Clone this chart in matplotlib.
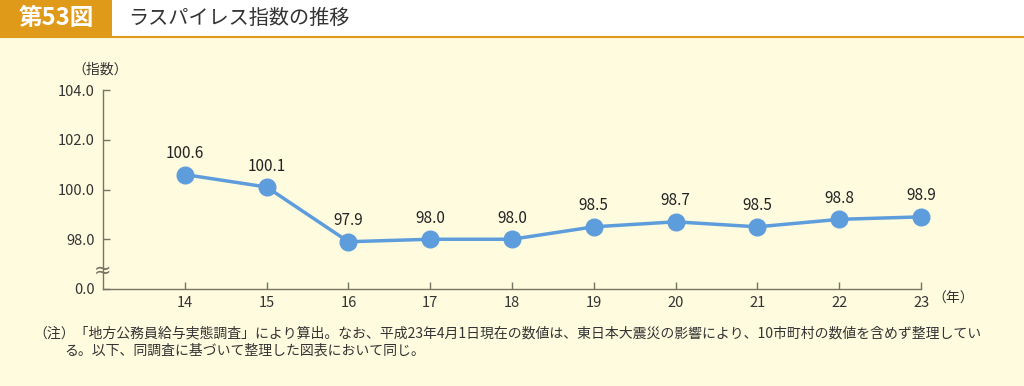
import matplotlib.pyplot as plt
from matplotlib.patches import Rectangle

plt.rcParams['font.family'] = ['Noto Sans CJK JP', 'DejaVu Sans']

years = [14, 15, 16, 17, 18, 19, 20, 21, 22, 23]
values = [100.6, 100.1, 97.9, 98.0, 98.0, 98.5, 98.7, 98.5, 98.8, 98.9]
ytick_vals = [96.0, 98.0, 100.0, 102.0, 104.0]
ytick_labels = ['0.0', '98.0', '100.0', '102.0', '104.0']

bg = '#fffbdf'
axis_col = '#7a7263'
line_col = '#5e9ddc'
orange = '#e09a1a'

fig = plt.figure(figsize=(10.24, 3.86), dpi=100, facecolor=bg)

# header
fig.patches.append(Rectangle((0, 1 - 36/386), 1, 36/386, transform=fig.transFigure,
                             facecolor='white', edgecolor='none', zorder=0))
fig.patches.append(Rectangle((0, 1 - 36/386), 112/1024, 36/386, transform=fig.transFigure,
                             facecolor=orange, edgecolor='none', zorder=1))
fig.add_artist(plt.Line2D([0, 1], [1 - 37/386, 1 - 37/386], transform=fig.transFigure,
                          color=orange, lw=1.5))
fig.text(56/1024, 1 - 18/386, '第53図', color='white', fontsize=17, fontweight='bold',
         ha='center', va='center')
fig.text(128/1024, 1 - 18/386, 'ラスパイレス指数の推移', color='#333333', fontsize=14.5,
         ha='left', va='center')

ax = fig.add_axes([103/1024, 97/386, 818/1024, 199/386])
ax.set_facecolor(bg)
ax.plot(years, values, color=line_col, lw=2.5, marker='o', markersize=12,
        markeredgecolor=line_col, zorder=3, clip_on=False)
for x, v in zip(years, values):
    ax.annotate(f'{v:.1f}', (x, v), xytext=(0, 9), textcoords='offset points',
                ha='center', va='bottom', fontsize=11, color='#222222')

ax.set_xlim(13, 23)
ax.set_ylim(96, 104)
ax.set_xticks(years)
ax.set_xticklabels([str(y) for y in years], fontsize=10.5, color='#333333')
ax.set_yticks(ytick_vals)
ax.set_yticklabels(ytick_labels, fontsize=10.5, color='#333333')
ax.tick_params(axis='both', direction='in', length=5, color=axis_col, width=1, pad=6)
ax.tick_params(axis='x', pad=5)
for s in ['top', 'right']:
    ax.spines[s].set_visible(False)
for s in ['left', 'bottom']:
    ax.spines[s].set_color(axis_col)
    ax.spines[s].set_linewidth(1)

# axis break
ax.text(13, 96.75, '≈', ha='center', va='center', fontsize=15,
        color=axis_col, family='DejaVu Sans', clip_on=False, zorder=5)

fig.text(100/1024, 1 - 70/386, '（指数）', fontsize=10, color='#333333', ha='center', va='center')
fig.text(932/1024, 1 - 299/386, '（年）', fontsize=10, color='#333333', ha='left', va='center')

fig.text(33/1024, 1 - 333/386,
         '（注）「地方公務員給与実態調査」により算出。なお、平成23年4月1日現在の数値は、東日本大震災の影響により、10市町村の数値を含めず整理してい',
         fontsize=10, color='#333333', ha='left', va='center')
fig.text(64/1024, 1 - 351/386, 'る。以下、同調査に基づいて整理した図表において同じ。',
         fontsize=10, color='#333333', ha='left', va='center')

fig.savefig('out.png', dpi=100, facecolor=bg)
